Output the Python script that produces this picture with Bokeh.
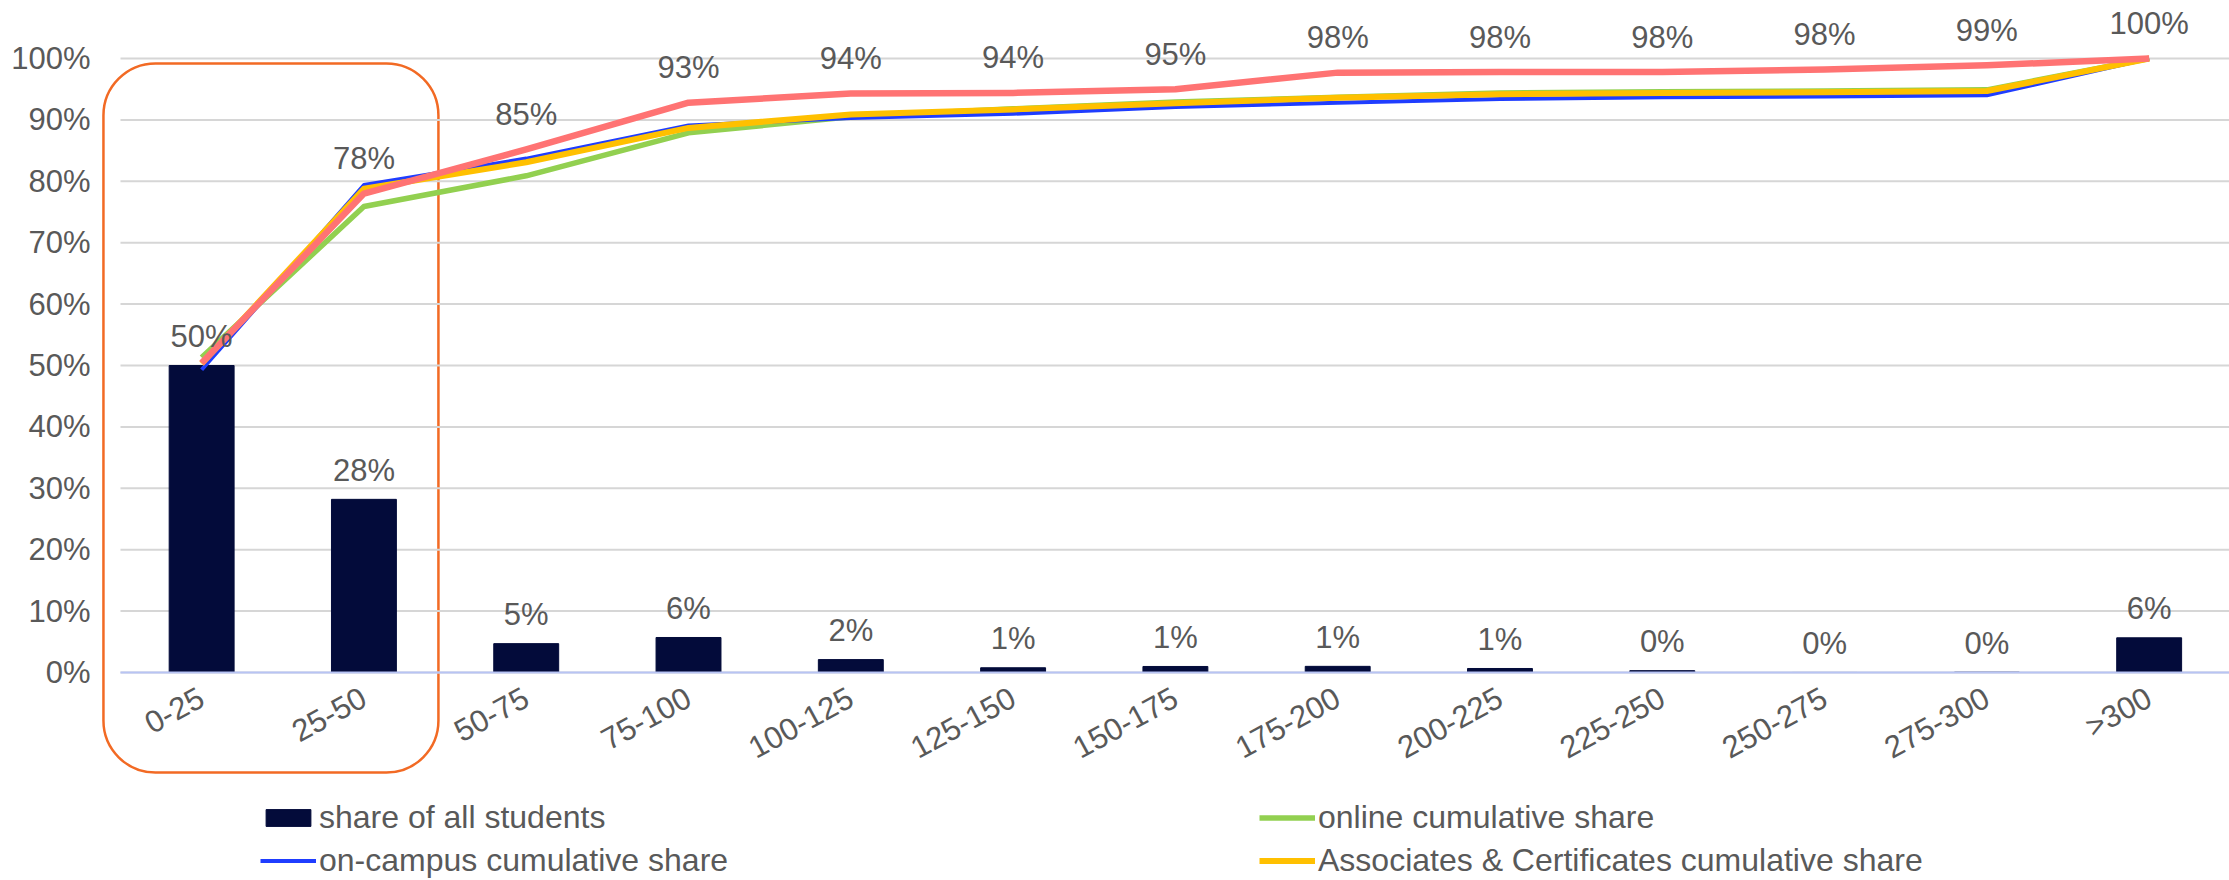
from bokeh.plotting import figure
from bokeh.models import (Range1d, FixedTicker, NumeralTickFormatter,
                          Legend, LegendItem, BoxAnnotation)
from bokeh.core.properties import value
from bokeh.embed import file_html
from bokeh.resources import INLINE

# ---------------- data ----------------
categories = ["0-25", "25-50", "50-75", "75-100", "100-125", "125-150", "150-175",
              "175-200", "200-225", "225-250", "250-275", "275-300", ">300"]
share_all = [0.500, 0.282, 0.047, 0.057, 0.021, 0.0077, 0.0098, 0.0100, 0.0065,
             0.0030, 0.0, 0.0004, 0.0565]
online_cum = [0.513, 0.759, 0.809, 0.879, 0.905, 0.918, 0.929, 0.937, 0.944,
              0.946, 0.947, 0.949, 1.0]
campus_cum = [0.493, 0.794, 0.837, 0.891, 0.903, 0.910, 0.921, 0.928, 0.934,
              0.937, 0.938, 0.940, 1.0]
assoc_cum = [0.503, 0.788, 0.831, 0.887, 0.909, 0.917, 0.927, 0.936, 0.942,
             0.944, 0.945, 0.947, 1.0]
all_cum = [0.504, 0.780, 0.852, 0.928, 0.943, 0.944, 0.950, 0.977, 0.978,
           0.978, 0.982, 0.989, 1.0]
y_ticks = [0.0, 0.1, 0.2, 0.3, 0.4, 0.5, 0.6, 0.7, 0.8, 0.9, 1.0]
highlight = ["0-25", "25-50"]

n = len(categories)
xs = [i + 0.5 for i in range(n)]          # category centres on the numeric scale
share_labels = [f"{v * 100:.0f}%" for v in share_all]
all_labels = [f"{v * 100:.0f}%" for v in all_cum]
# the cumulative label coincides with the bar label where both read the same
red_idx = [i for i in range(n) if all_labels[i] != share_labels[i]]

FONT = "Liberation Sans"
GREY = "#595959"

p = figure(x_range=Range1d(-0.117, n - 0.005), y_range=Range1d(-0.3388, 1.0945),
           frame_width=2128, frame_height=880, title=None,
           output_backend="svg", toolbar_location=None,
           min_border_left=101, min_border_right=0, min_border_top=0, min_border_bottom=0)
p.outline_line_color = None
p.background_fill_color = "white"
p.xgrid.visible = False
p.ygrid.visible = False

# horizontal gridlines across the category area
p.segment(x0=[0] * len(y_ticks), x1=[n] * len(y_ticks), y0=y_ticks, y1=y_ticks,
          line_color="#D6D6D6", line_width=2)

ya = p.yaxis[0]
ya.ticker = FixedTicker(ticks=y_ticks)
ya.formatter = NumeralTickFormatter(format="0%")
ya.axis_line_color = None
ya.major_tick_line_color = None
ya.minor_tick_line_color = None
ya.major_tick_out = 0
ya.major_tick_in = 0
ya.minor_tick_out = 0
ya.major_label_text_font = FONT
ya.major_label_text_font_size = "31px"
ya.major_label_text_color = GREY
ya.major_label_standoff = 11

xa = p.xaxis[0]
xa.fixed_location = 0
xa.bounds = (0, n)
xa.ticker = FixedTicker(ticks=xs)
xa.major_label_overrides = {x: c for x, c in zip(xs, categories)}
xa.axis_line_color = "#B8C4F4"
xa.axis_line_width = 2
xa.major_tick_line_color = None
xa.minor_tick_line_color = None
xa.major_tick_out = 0
xa.major_tick_in = 0
xa.minor_tick_out = 0
xa.major_label_orientation = 0.5
xa.major_label_text_font = FONT
xa.major_label_text_font_size = "31px"
xa.major_label_text_color = GREY
xa.major_label_standoff = 23

hl_start = categories.index(highlight[0])
hl_end = categories.index(highlight[-1]) + 1
box = BoxAnnotation(left=hl_start - 0.105, right=hl_end - 0.041, bottom=-0.163, top=0.992,
                    fill_alpha=0, line_color="#F26A24", line_alpha=1, line_width=2.5,
                    border_radius=52, level="underlay")
p.add_layout(box)

bars = p.vbar(x=xs, top=share_all, width=0.4, fill_color="#030B3A",
              line_color="#030B3A")
online = p.line(x=xs, y=online_cum, line_color="#92D050", line_width=5.5,
                line_join="round")
campus = p.line(x=xs, y=campus_cum, line_color="#1F3DFF", line_width=4,
                line_join="round")
assoc = p.line(x=xs, y=assoc_cum, line_color="#FFC000", line_width=6,
               line_join="round")
p.line(x=xs, y=all_cum, line_color="#FF7373", line_width=6.5, line_join="round")

p.text(x=xs, y=share_all, text=share_labels, text_align="center",
       text_baseline="alphabetic", y_offset=-29, text_font=value(FONT),
       text_font_size="31px", text_color=GREY)
p.text(x=[xs[i] for i in red_idx], y=[all_cum[i] for i in red_idx],
       text=[all_labels[i] for i in red_idx], text_align="center",
       text_baseline="alphabetic", y_offset=-35, text_font=value(FONT),
       text_font_size="31px", text_color=GREY)

legend = Legend(items=[
    LegendItem(label="share of all students", renderers=[bars]),
    LegendItem(label="on-campus cumulative share", renderers=[campus]),
    LegendItem(label="online cumulative share", renderers=[online]),
    LegendItem(label="Associates & Certificates cumulative share", renderers=[assoc]),
], orientation="vertical", ncols=2, location=(159, 1), margin=0, padding=0,
    spacing=6, glyph_width=56, glyph_height=21, label_standoff=3, label_width=934,
    label_text_font=FONT, label_text_font_size="32px", label_text_color=GREY,
    border_line_color=None, background_fill_alpha=0)
p.add_layout(legend)

open("out.html", "w").write(file_html(p, INLINE))
